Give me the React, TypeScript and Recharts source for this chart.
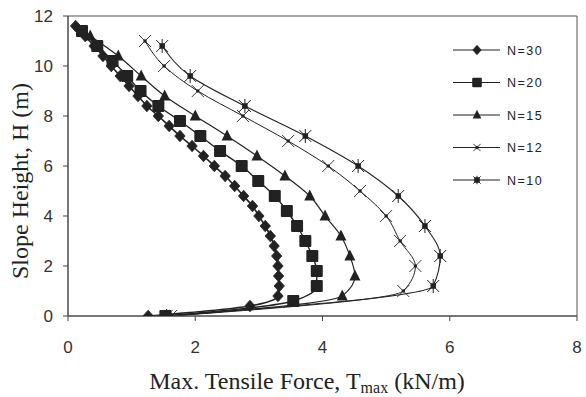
import { Customized, Line, LineChart, ReferenceArea, XAxis, YAxis } from "recharts";

// layer heights (m) and max tensile force (kN/m) for each reinforcement count
const heightsN30 = [11.6, 11.2, 10.8, 10.4, 10.0, 9.6, 9.2, 8.8, 8.4, 8.0, 7.6, 7.2, 6.8, 6.4, 6.0, 5.6, 5.2, 4.8, 4.4, 4.0, 3.6, 3.2, 2.8, 2.4, 2.0, 1.6, 1.2, 0.8, 0.4, 0];
const forceN30 = [0.12, 0.27, 0.41, 0.55, 0.68, 0.82, 0.96, 1.1, 1.24, 1.42, 1.59, 1.76, 1.95, 2.13, 2.3, 2.47, 2.62, 2.76, 2.9, 3.0, 3.1, 3.18, 3.24, 3.28, 3.3, 3.31, 3.32, 3.3, 2.86, 1.26];

const heightsN20 = [11.4, 10.8, 10.2, 9.6, 9.0, 8.4, 7.8, 7.2, 6.6, 6.0, 5.4, 4.8, 4.2, 3.6, 3.0, 2.4, 1.8, 1.2, 0.6, 0];
const forceN20 = [0.22, 0.46, 0.7, 0.93, 1.14, 1.42, 1.76, 2.08, 2.39, 2.73, 2.99, 3.25, 3.44, 3.6, 3.73, 3.84, 3.91, 3.91, 3.54, 1.53];

const heightsN15 = [11.2, 10.4, 9.6, 8.8, 8.0, 7.2, 6.4, 5.6, 4.8, 4.0, 3.2, 2.4, 1.6, 0.8, 0];
const forceN15 = [0.35, 0.79, 1.15, 1.52, 2.0, 2.5, 2.97, 3.41, 3.8, 4.04, 4.29, 4.43, 4.51, 4.31, 1.6];

const heightsN12 = [11, 10, 9, 8, 7, 6, 5, 4, 3, 2, 1, 0];
const forceN12 = [1.21, 1.51, 2.04, 2.75, 3.46, 4.09, 4.59, 5.0, 5.22, 5.46, 5.27, 1.62];

const heightsN10 = [10.8, 9.6, 8.4, 7.2, 6.0, 4.8, 3.6, 2.4, 1.2, 0];
const forceN10 = [1.48, 1.92, 2.78, 3.73, 4.56, 5.19, 5.61, 5.85, 5.74, 1.55];

const xTicks = [0, 2, 4, 6, 8];
const yTicks = [0, 2, 4, 6, 8, 10, 12];

type Pt = { h: number; t: number };
type MarkerKind = "diamond" | "square" | "triangle" | "cross" | "star";

const zip = (hs: number[], ts: number[]): Pt[] => hs.map((h, i) => ({ h, t: ts[i] }));

const INK = "#222";

const series: { name: string; data: Pt[]; marker: MarkerKind; width: number }[] = [
  { name: "N=30", data: zip(heightsN30, forceN30), marker: "diamond", width: 1.6 },
  { name: "N=20", data: zip(heightsN20, forceN20), marker: "square", width: 1.4 },
  { name: "N=15", data: zip(heightsN15, forceN15), marker: "triangle", width: 1.2 },
  { name: "N=12", data: zip(heightsN12, forceN12), marker: "cross", width: 1.0 },
  { name: "N=10", data: zip(heightsN10, forceN10), marker: "star", width: 1.1 },
];

function Marker({ kind, cx, cy, s = 1 }: { kind: MarkerKind; cx: number; cy: number; s?: number }) {
  if (cx == null || cy == null) return null;
  switch (kind) {
    case "diamond":
      return (
        <polygon
          points={`${cx},${cy - 5.8 * s} ${cx + 5.2 * s},${cy} ${cx},${cy + 5.8 * s} ${cx - 5.2 * s},${cy}`}
          fill={INK}
          stroke={INK}
          strokeWidth={0.8}
          strokeLinejoin="round"
        />
      );
    case "square":
      return <rect x={cx - 6 * s} y={cy - 6 * s} width={12 * s} height={12 * s} rx={1} fill={INK} />;
    case "triangle":
      return (
        <polygon
          points={`${cx},${cy - 6.5 * s} ${cx + 5.5 * s},${cy + 4.5 * s} ${cx - 5.5 * s},${cy + 4.5 * s}`}
          fill={INK}
        />
      );
    case "cross":
      return (
        <g stroke={INK} strokeWidth={0.9}>
          <line x1={cx - 6 * s} y1={cy - 6 * s} x2={cx + 6 * s} y2={cy + 6 * s} />
          <line x1={cx - 6 * s} y1={cy + 6 * s} x2={cx + 6 * s} y2={cy - 6 * s} />
          <circle cx={cx} cy={cy} r={1.3} fill={INK} />
        </g>
      );
    case "star":
      return (
        <g stroke={INK} strokeWidth={1}>
          <line x1={cx - 6 * s} y1={cy - 6 * s} x2={cx + 6 * s} y2={cy + 6 * s} />
          <line x1={cx - 6 * s} y1={cy + 6 * s} x2={cx + 6 * s} y2={cy - 6 * s} />
          <line x1={cx} y1={cy - 7 * s} x2={cx} y2={cy + 7 * s} />
          <rect x={cx - 2.2} y={cy - 2.2} width={4.4} height={4.4} fill={INK} />
        </g>
      );
  }
}

function LegendBox() {
  return (
    <g>
      {series.map((s, i) => {
        const y = 50 + i * 32.5;
        const small = s.marker === "cross" || s.marker === "star" ? 0.6 : 0.8;
        return (
          <g key={s.name}>
            <line x1={453} y1={y} x2={500} y2={y} stroke={INK} strokeWidth={1.1} />
            <Marker kind={s.marker} cx={477} cy={y} s={small} />
            <text
              x={507}
              y={y + 4.5}
              fontFamily="Liberation Sans, Arial, sans-serif"
              fontSize={12.5}
              letterSpacing={1.5}
              fill={INK}
            >
              {s.name}
            </text>
          </g>
        );
      })}
    </g>
  );
}

const tickStyle = { fontFamily: "Liberation Sans, Arial, sans-serif", fontSize: 17, fill: "#333" };
const titleFont = "Liberation Serif, Times New Roman, serif";

export default function App() {
  return (
    <div style={{ position: "absolute", left: 0, top: 0, background: "#fff" }}>
      <LineChart
        width={586}
        height={397}
        layout="vertical"
        margin={{ top: 16, right: 9, bottom: 21, left: 18 }}
      >
        <XAxis
          type="number"
          dataKey="t"
          domain={[0, 8]}
          ticks={xTicks}
          height={60}
          tick={tickStyle}
          tickSize={5}
          tickMargin={20}
          stroke="#444"
          allowDataOverflow
          label={{
            content: () => (
              <text x={307} y={389} textAnchor="middle" fontFamily={titleFont} fontSize={24} fill={INK}>
                Max. Tensile Force, T
                <tspan fontSize={16} dy={4}>max</tspan>
                <tspan dy={-4}> (kN/m)</tspan>
              </text>
            ),
          }}
        />
        <YAxis
          type="number"
          dataKey="h"
          domain={[0, 12]}
          ticks={yTicks}
          reversed
          width={50}
          tick={tickStyle}
          tickSize={5}
          tickMargin={10}
          stroke="#444"
          allowDataOverflow
          label={{
            content: () => (
              <text
                x={0}
                y={0}
                transform="translate(28,181) rotate(-90)"
                textAnchor="middle"
                fontFamily={titleFont}
                fontSize={24}
                fill={INK}
              >
                Slope Height, H (m)
              </text>
            ),
          }}
        />
        <ReferenceArea x1={0} x2={8} y1={0} y2={12} fill="none" stroke="#555" strokeWidth={1} />
        {series.map((s) => (
          <Line
            key={s.name}
            data={s.data}
            dataKey="t"
            name={s.name}
            type="monotone"
            stroke={INK}
            strokeWidth={s.width}
            isAnimationActive={false}
            dot={(p: any) => <Marker key={`${s.name}-${p.index}`} kind={s.marker} cx={p.cx} cy={p.cy} />}
            activeDot={false}
          />
        ))}
        <Customized component={LegendBox} />
      </LineChart>
    </div>
  );
}
